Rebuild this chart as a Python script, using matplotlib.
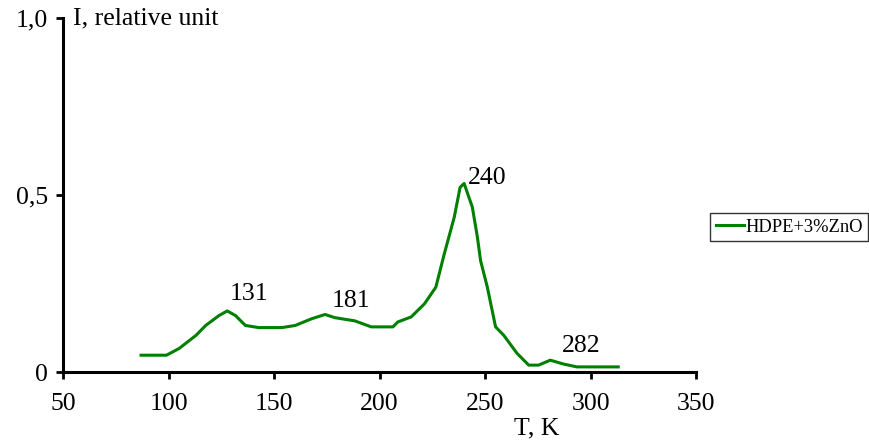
import matplotlib.pyplot as plt

plt.rcParams['font.family'] = ['Liberation Serif', 'DejaVu Serif']

# TSL curve, HDPE + 3% ZnO
temp_k = [87, 99, 105, 113, 117.6, 123.9, 127.8, 131.7, 136.4, 142.7, 153.7, 160,
          167.8, 174.1, 178.8, 188.2, 196, 206.3, 208.6, 214.9, 221.2, 226.6, 230.6,
          235.3, 238.1, 240, 243.9, 246.3, 247.8, 251, 254.9, 258.8, 265.1, 270.6,
          275.3, 280.8, 287.1, 293.4, 313]
intensity = [0.048, 0.048, 0.067, 0.104, 0.132, 0.160, 0.173, 0.160, 0.132, 0.126,
             0.126, 0.132, 0.151, 0.163, 0.154, 0.145, 0.128, 0.128, 0.142, 0.156,
             0.193, 0.240, 0.334, 0.437, 0.522, 0.533, 0.466, 0.381, 0.315, 0.240,
             0.128, 0.104, 0.053, 0.020, 0.020, 0.034, 0.023, 0.015, 0.015]

peak_labels = ["131", "181", "240", "282"]
peak_pos = [(138, 0.220), (186.6, 0.200), (250.7, 0.549), (295.4, 0.073)]

x_ticks = [50, 100, 150, 200, 250, 300, 350]
y_ticks = [0, 0.5, 1.0]
y_ticklabels = ["0", "0,5", "1,0"]

fs = 18.5

fig = plt.figure(figsize=(8.7, 4.41), dpi=100)
ax = fig.add_axes([0.0724, 0.156, 0.728, 0.803])

ax.plot(temp_k, intensity, color='#008000', lw=2.2, label='HDPE+3%ZnO')

for txt, (x, y) in zip(peak_labels, peak_pos):
    ax.text(x, y, txt, fontsize=fs, ha='center', va='center')

ax.set_xlim(50, 350)
ax.set_ylim(0, 1.0)
ax.set_xticks(x_ticks)
ax.set_yticks(y_ticks)
ax.set_yticklabels(y_ticklabels)
ax.tick_params(labelsize=fs, width=2, length=5, direction='out')
ax.tick_params(axis='x', pad=10)
ax.tick_params(axis='y', pad=6)

for side in ('top', 'right'):
    ax.spines[side].set_visible(False)
for side in ('left', 'bottom'):
    ax.spines[side].set_linewidth(2.2)

ax.text(0.016, 1.0, "I, relative unit", transform=ax.transAxes, fontsize=fs,
        ha='left', va='center')
ax.text(0.748, -0.158, "T, K", transform=ax.transAxes, fontsize=fs,
        ha='center', va='center')

leg = ax.legend(loc='center left', bbox_to_anchor=(1.022, 0.41), fontsize=13.3,
                frameon=True, fancybox=False, edgecolor='black', handlelength=1.5,
                handletextpad=0.1, borderpad=0.3, borderaxespad=0)
leg.get_frame().set_linewidth(1.0)

fig.savefig('out.png', dpi=100)
